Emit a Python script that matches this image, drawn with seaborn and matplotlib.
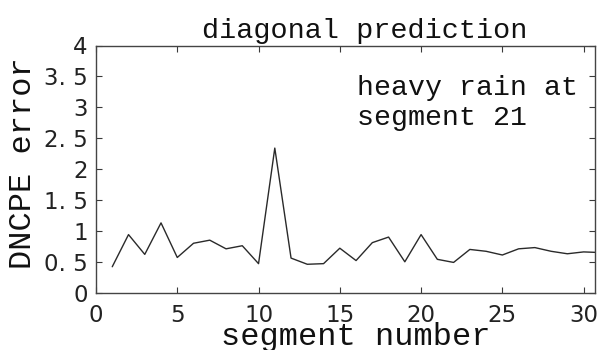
import numpy as np
import pandas as pd
import matplotlib
matplotlib.use("Agg")
import matplotlib.pyplot as plt
import seaborn as sns

# values
segments = list(range(1, 32))
errors = [0.42, 0.94, 0.62, 1.13, 0.57, 0.80, 0.85, 0.71, 0.76, 0.47,
          2.34, 0.56, 0.46, 0.47, 0.72, 0.52, 0.81, 0.90, 0.50, 0.94,
          0.54, 0.49, 0.70, 0.67, 0.61, 0.71, 0.73, 0.67, 0.63, 0.66, 0.65]
y_ticks = [0, 0.5, 1, 1.5, 2, 2.5, 3, 3.5, 4]
y_tick_labels = ["0", "0. 5", "1", "1. 5", "2", "2. 5", "3", "3. 5", "4"]
x_ticks = [0, 5, 10, 15, 20, 25, 30]

sns.set_style("ticks")
plt.rcParams["font.family"] = ["DejaVu Sans"]

df = pd.DataFrame({"segment": segments, "error": errors})

W, H = 602, 350
fig = plt.figure(figsize=(W / 100, H / 100), dpi=100)
ax = fig.add_axes([96 / W, 1 - 292.7 / H, (595 - 96) / W, (292.7 - 45.5) / H])

sns.lineplot(data=df, x="segment", y="error", color="#2a2a2a", linewidth=1.0, ax=ax)

ax.set_xlim(0, 30.7)
ax.set_ylim(0, 4)
ax.set_xticks(x_ticks)
ax.set_yticks(y_ticks)
ax.set_yticklabels(y_tick_labels)
ax.set_xlabel("")
ax.set_ylabel("")
ax.tick_params(direction="in", length=4.5, width=0.8, top=True, right=True,
               labelsize=16.5, colors="#3a3a3a")
ax.tick_params(axis="x", pad=8, labelcolor="#222222")
ax.tick_params(axis="y", pad=6, labelcolor="#222222")
for s in ax.spines.values():
    s.set_visible(True)
    s.set_linewidth(1.0)
    s.set_color("#444444")

mono = "Liberation Mono"
fig.text(365 / W, 1 - 38 / H, "diagonal prediction", family=mono, fontsize=20.5,
         ha="center", va="baseline", color="#111111")
fig.text(356 / W, 1 - 344.5 / H, "segment number", family=mono, fontsize=23,
         ha="center", va="baseline", color="#111111")
fig.text(38 / W, 1 - 163 / H, "DNCPE error", family=mono, fontsize=23,
         rotation=90, ha="right", va="center", color="#111111")
ax.text(16.07, 2.71, "heavy rain at\nsegment 21", family=mono, fontsize=20.3,
        va="baseline", ha="left", linespacing=1.22, color="#111111")

fig.savefig("out.png", dpi=100)
